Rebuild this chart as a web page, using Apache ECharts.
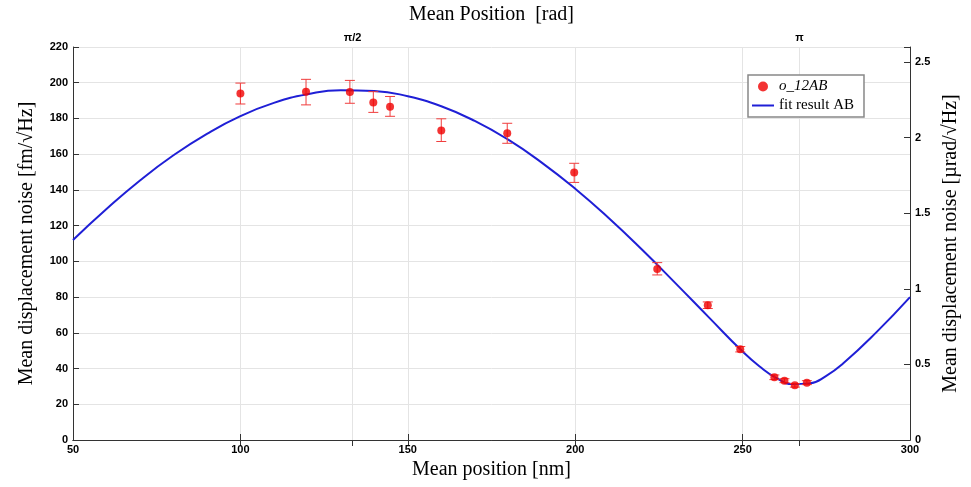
<!DOCTYPE html>
<html>
<head>
<meta charset="utf-8">
<script src="https://cdn.jsdelivr.net/npm/echarts@6/dist/echarts.min.js"></script>
<style>html,body{margin:0;padding:0;background:#fff}#c{width:971px;height:487px}</style>
</head>
<body>
<div id="c"></div>
<script>
// Measured points
const posNm = [100, 119.6, 132.7, 139.7, 144.7, 160, 179.7, 199.7, 224.5, 239.6, 249.3, 259.5, 262.5, 265.6, 269.2];
const noise = [193.9, 195.0, 194.8, 189.0, 186.6, 173.2, 171.7, 149.7, 95.7, 75.4, 50.8, 35.1, 33.2, 30.6, 32.1];
const errLow = [188.1, 187.6, 188.5, 183.4, 181.2, 167.1, 166.1, 144.2, 92.4, 73.6, 49.3, 33.8, 32.1, 29.6, 31.0];
const errHigh = [199.8, 201.9, 201.3, 195.0, 192.3, 179.8, 177.3, 154.9, 99.3, 77.3, 52.3, 36.4, 34.3, 31.6, 33.2];
// Fit curve
const fitX = [50, 60, 70, 80, 90, 100, 110, 120, 130, 140, 150, 160, 170, 180, 190, 200, 210, 220, 230, 240, 250, 255, 260, 265, 270, 275, 280, 290, 300];
const fitY = [112, 129.3, 145.3, 159.4, 171.4, 181.3, 188.7, 193.5, 195.8, 195.4, 192.4, 186.8, 178.6, 168.1, 155.3, 140.7, 124.3, 106.5, 87.7, 68.5, 49.5, 41.3, 34.8, 31.3, 31.7, 35.9, 42.8, 60.4, 80];
// Axis ticks
const topTickPos = [133.5, 267];
const topTickLabels = ['π/2', 'π'];

const chart = echarts.init(document.getElementById('c'));
const tickFont = {fontFamily: 'Liberation Sans Narrow, Liberation Sans, sans-serif', fontWeight: 'bold', fontSize: 11, color: '#000'};
const nameFont = {fontFamily: 'Liberation Serif, DejaVu Serif, serif', fontSize: 20, color: '#000'};
const gridColor = '#e4e4e4';
const fitColor = '#1f1fd6';

chart.setOption({
  animation: false,
  backgroundColor: '#fff',
  grid: {left: 73, right: 61, top: 47, bottom: 47},
  legend: {
    orient: 'vertical', left: 748, top: 75, z: 20,
    backgroundColor: '#fff', borderColor: '#888', borderWidth: 1.5,
    padding: [4, 10, 4, 4], itemGap: 4, itemWidth: 22, itemHeight: 10,
    textStyle: {fontFamily: 'Liberation Serif, DejaVu Serif, serif', fontSize: 15, color: '#000'},
    data: [
      {name: 'o_12AB', icon: 'circle', textStyle: {fontStyle: 'italic'}},
      {name: 'fit result AB', icon: 'path://M0,4 L22,4 L22,6 L0,6 Z',
       itemStyle: {color: fitColor, borderWidth: 0}, lineStyle: {width: 0}}
    ]
  },
  xAxis: [
    {
      type: 'value', position: 'bottom', min: 50, max: 300, interval: 50,
      name: 'Mean position [nm]', nameLocation: 'middle', nameGap: 17,
      nameTextStyle: nameFont,
      axisLine: {show: true, lineStyle: {color: '#333', width: 1}},
      axisTick: {inside: true, length: 6, lineStyle: {color: '#333'}},
      axisLabel: Object.assign({margin: 4}, tickFont),
      splitLine: {show: true, lineStyle: {color: gridColor}}
    },
    {
      type: 'value', position: 'top', min: 50, max: 300,
      name: 'Mean Position  [rad]', nameLocation: 'middle', nameGap: 22,
      nameTextStyle: nameFont,
      axisLine: {show: true, lineStyle: {color: '#333', width: 1}},
      axisTick: {inside: true, length: 6, lineStyle: {color: '#333'}, customValues: [100, 133.5, 150, 200, 250, 267]},
      axisLabel: Object.assign({margin: 4, customValues: topTickPos,
        formatter: v => { const i = topTickPos.indexOf(v); return i >= 0 ? topTickLabels[i] : ''; }}, tickFont),
      splitLine: {show: false}
    }
  ],
  yAxis: [
    {
      type: 'value', min: 0, max: 220, interval: 20, position: 'left',
      name: 'Mean displacement noise [fm/√Hz]', nameLocation: 'middle', nameGap: 36, nameRotate: 90,
      nameTextStyle: nameFont,
      axisLine: {show: true, lineStyle: {color: '#333', width: 1}},
      axisTick: {inside: true, length: 6, lineStyle: {color: '#333'}},
      axisLabel: Object.assign({margin: 5}, tickFont),
      splitLine: {show: true, lineStyle: {color: gridColor}}
    },
    {
      type: 'value', min: 0, max: 2.6, interval: 0.5, position: 'right',
      name: 'Mean displacement noise [µrad/√Hz]', nameLocation: 'middle', nameGap: 30, nameRotate: 90,
      nameTextStyle: nameFont,
      axisLine: {show: true, lineStyle: {color: '#333', width: 1}},
      axisTick: {inside: true, length: 6, lineStyle: {color: '#333'}},
      axisLabel: Object.assign({margin: 5, formatter: v => (v > 2.55 ? '' : String(v))}, tickFont),
      splitLine: {show: false}
    }
  ],
  series: [
    {
      name: 'grid-extra', type: 'line', data: [], silent: true, z: 1,
      markLine: {
        silent: true, symbol: 'none', label: {show: false}, z: 1,
        lineStyle: {color: gridColor, type: 'solid', width: 1},
        data: topTickPos.map(v => [{coord: [v, 0]}, {coord: [v, 220]}])
      }
    },
    {
      name: 'fit result AB', type: 'line', smooth: true, symbol: 'none', showSymbol: false,
      xAxisIndex: 0, yAxisIndex: 0,
      lineStyle: {color: fitColor, width: 2}, itemStyle: {color: fitColor},
      data: fitX.map((x, i) => [x, fitY[i]]), z: 3
    },
    {
      name: 'errorbars', type: 'custom', xAxisIndex: 0, yAxisIndex: 0, z: 4,
      data: posNm.map((x, i) => [x, errLow[i], errHigh[i]]),
      renderItem: (params, api) => {
        const lo = api.coord([api.value(0), api.value(1)]);
        const hi = api.coord([api.value(0), api.value(2)]);
        const hw = 5;
        const st = {stroke: '#f03c3c', lineWidth: 1};
        return {type: 'group', children: [
          {type: 'line', shape: {x1: lo[0], y1: lo[1], x2: hi[0], y2: hi[1]}, style: st},
          {type: 'line', shape: {x1: lo[0] - hw, y1: lo[1], x2: lo[0] + hw, y2: lo[1]}, style: st},
          {type: 'line', shape: {x1: hi[0] - hw, y1: hi[1], x2: hi[0] + hw, y2: hi[1]}, style: st}
        ]};
      }
    },
    {
      name: 'o_12AB', type: 'scatter', xAxisIndex: 0, yAxisIndex: 0, z: 5,
      symbol: 'circle', symbolSize: 8,
      itemStyle: {color: '#f00000'},
      data: posNm.map((x, i) => [x, noise[i]])
    }
  ]
});
</script>
</body>
</html>
